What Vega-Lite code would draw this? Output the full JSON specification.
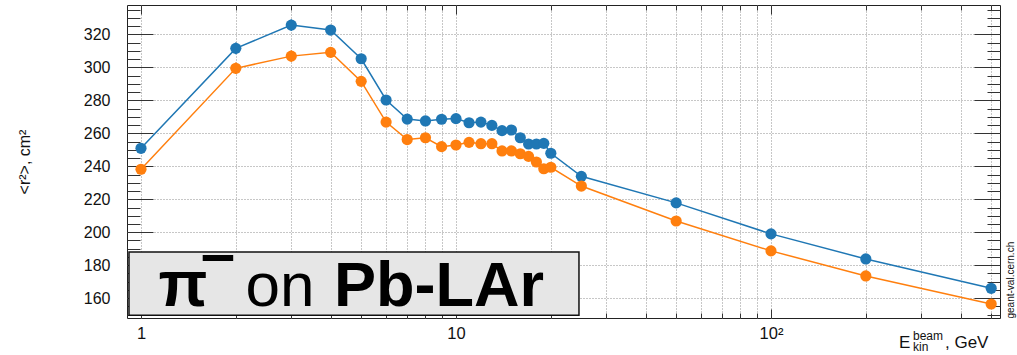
{
  "$schema": "https://vega.github.io/schema/vega-lite/v6.json",
  "width": 873,
  "height": 313,
  "autosize": "none",
  "padding": {"left": 127, "top": 5, "right": 17, "bottom": 37},
  "background": "white",
  "config": {
    "font": "Liberation Sans",
    "view": {"stroke": "#222", "strokeWidth": 1},
    "axis": {
      "domain": false,
      "labelColor": "#111",
      "labelFont": "Liberation Sans",
      "titleFont": "Liberation Sans",
      "titleColor": "#111",
      "titleFontWeight": "normal",
      "tickColor": "#333",
      "tickWidth": 1,
      "gridColor": "#8f8f8f",
      "gridDash": [1, 2],
      "gridWidth": 1
    }
  },
  "datasets": {
    "r2": [
      {"E": 1, "set": "set 1", "r2": 250.9, "err": 2.5},
      {"E": 2, "set": "set 1", "r2": 311.5, "err": 3.5},
      {"E": 3, "set": "set 1", "r2": 325.6, "err": 3.5},
      {"E": 4, "set": "set 1", "r2": 322.6, "err": 2.5},
      {"E": 5, "set": "set 1", "r2": 305.2, "err": 2},
      {"E": 6, "set": "set 1", "r2": 280.2, "err": 2},
      {"E": 7, "set": "set 1", "r2": 268.6, "err": 1.5},
      {"E": 8, "set": "set 1", "r2": 267.5, "err": 1.5},
      {"E": 9, "set": "set 1", "r2": 268.5, "err": 1.5},
      {"E": 10, "set": "set 1", "r2": 268.9, "err": 1.5},
      {"E": 11, "set": "set 1", "r2": 266.4, "err": 1.5},
      {"E": 12, "set": "set 1", "r2": 266.8, "err": 1.5},
      {"E": 13, "set": "set 1", "r2": 264.8, "err": 1.5},
      {"E": 14, "set": "set 1", "r2": 261.6, "err": 1.5},
      {"E": 15, "set": "set 1", "r2": 262.0, "err": 1.5},
      {"E": 16, "set": "set 1", "r2": 257.3, "err": 1.5},
      {"E": 17, "set": "set 1", "r2": 253.5, "err": 1.5},
      {"E": 18, "set": "set 1", "r2": 253.5, "err": 1.5},
      {"E": 19, "set": "set 1", "r2": 253.9, "err": 1.5},
      {"E": 20, "set": "set 1", "r2": 247.9, "err": 1.5},
      {"E": 25, "set": "set 1", "r2": 233.9, "err": 1.5},
      {"E": 50, "set": "set 1", "r2": 217.8, "err": 1.5},
      {"E": 100, "set": "set 1", "r2": 199.0, "err": 1.5},
      {"E": 200, "set": "set 1", "r2": 183.8, "err": 1.5},
      {"E": 500, "set": "set 1", "r2": 166.0, "err": 1.5},
      {"E": 1, "set": "set 2", "r2": 238.2, "err": 2.5},
      {"E": 2, "set": "set 2", "r2": 299.4, "err": 3.5},
      {"E": 3, "set": "set 2", "r2": 306.8, "err": 3.5},
      {"E": 4, "set": "set 2", "r2": 309.1, "err": 2.5},
      {"E": 5, "set": "set 2", "r2": 291.5, "err": 2},
      {"E": 6, "set": "set 2", "r2": 266.8, "err": 2},
      {"E": 7, "set": "set 2", "r2": 256.2, "err": 1.5},
      {"E": 8, "set": "set 2", "r2": 257.3, "err": 1.5},
      {"E": 9, "set": "set 2", "r2": 251.9, "err": 1.5},
      {"E": 10, "set": "set 2", "r2": 252.9, "err": 1.5},
      {"E": 11, "set": "set 2", "r2": 254.5, "err": 1.5},
      {"E": 12, "set": "set 2", "r2": 253.7, "err": 1.5},
      {"E": 13, "set": "set 2", "r2": 253.7, "err": 1.5},
      {"E": 14, "set": "set 2", "r2": 249.3, "err": 1.5},
      {"E": 15, "set": "set 2", "r2": 249.3, "err": 1.5},
      {"E": 16, "set": "set 2", "r2": 247.6, "err": 1.5},
      {"E": 17, "set": "set 2", "r2": 246.0, "err": 1.5},
      {"E": 18, "set": "set 2", "r2": 242.6, "err": 1.5},
      {"E": 19, "set": "set 2", "r2": 238.5, "err": 1.5},
      {"E": 20, "set": "set 2", "r2": 239.4, "err": 1.5},
      {"E": 25, "set": "set 2", "r2": 228.0, "err": 1.5},
      {"E": 50, "set": "set 2", "r2": 206.8, "err": 1.5},
      {"E": 100, "set": "set 2", "r2": 188.7, "err": 1.5},
      {"E": 200, "set": "set 2", "r2": 173.5, "err": 1.5},
      {"E": 500, "set": "set 2", "r2": 156.5, "err": 1.5}
    ]
  },
  "layer": [
    {
      "data": {"name": "r2"},
      "mark": {"type": "line", "strokeWidth": 1.5},
      "encoding": {
        "x": {
          "field": "E", "type": "quantitative",
          "scale": {"type": "log", "domain": [0.9028, 533.3], "nice": false},
          "axis": {
            "orient": "bottom", "values": [1, 10, 100], "ticks": false, "grid": true,
            "labelExpr": "datum.value == 100 ? '10²' : datum.label",
            "labelFontSize": 16.5, "labelPadding": 7, "title": null
          }
        },
        "y": {
          "field": "r2", "type": "quantitative",
          "scale": {"domain": [148, 337.8], "nice": false, "zero": false},
          "axis": {
            "orient": "left", "values": [160, 180, 200, 220, 240, 260, 280, 300, 320],
            "ticks": false, "grid": true, "labelFontSize": 16, "labelPadding": 17,
            "title": "<r²>, cm²", "titleFontSize": 16, "titleAngle": -90,
            "titleX": -103, "titleY": 156.5, "titleAlign": "center", "titleBaseline": "middle"
          }
        },
        "color": {
          "field": "set", "type": "nominal",
          "scale": {"domain": ["set 1", "set 2"], "range": ["#1f77b4", "#ff7f0e"]},
          "legend": null
        }
      }
    },
    {
      "data": {"name": "r2"},
      "mark": {"type": "errorbar", "thickness": 1.5},
      "encoding": {
        "x": {"field": "E", "type": "quantitative", "scale": {"type": "log", "domain": [0.9028, 533.3], "nice": false}, "axis": null},
        "y": {"field": "r2", "type": "quantitative", "scale": {"domain": [148, 337.8], "nice": false, "zero": false}, "axis": null},
        "yError": {"field": "err"},
        "color": {"field": "set", "type": "nominal", "scale": {"domain": ["set 1", "set 2"], "range": ["#1f77b4", "#ff7f0e"]}, "legend": null}
      }
    },
    {
      "data": {"name": "r2"},
      "mark": {"type": "point", "filled": true, "size": 125, "opacity": 1},
      "encoding": {
        "x": {
          "field": "E", "type": "quantitative",
          "scale": {"type": "log", "domain": [0.9028, 533.3], "nice": false},
          "axis": {
            "orient": "bottom", "values": [2, 3, 4, 5, 6, 7, 8, 9, 20, 30, 40, 50, 60, 70, 80, 90, 200, 300, 400, 500],
            "labels": false, "tickSize": -5, "grid": true, "title": null
          }
        },
        "y": {
          "field": "r2", "type": "quantitative",
          "scale": {"domain": [148, 337.8], "nice": false, "zero": false},
          "axis": {
            "orient": "left",
            "values": [150, 155, 160, 165, 170, 175, 180, 185, 190, 195, 200, 205, 210, 215, 220, 225, 230, 235, 240, 245, 250, 255, 260, 265, 270, 275, 280, 285, 290, 295, 300, 305, 310, 315, 320, 325, 330, 335],
            "labels": false, "tickSize": -13, "grid": false, "title": null
          }
        },
        "color": {"field": "set", "type": "nominal", "scale": {"domain": ["set 1", "set 2"], "range": ["#1f77b4", "#ff7f0e"]}, "legend": null}
      }
    },
    {
      "data": {"values": [{}]},
      "mark": {"type": "rect", "fill": "#e6e6e6", "stroke": "#111", "strokeWidth": 1.5},
      "encoding": {
        "x": {
          "datum": 0.916, "type": "quantitative",
          "scale": {"type": "log", "domain": [0.9028, 533.3], "nice": false},
          "axis": {"orient": "bottom", "values": [1, 10, 100], "labels": false, "tickSize": -9, "grid": false, "title": null}
        },
        "x2": {"datum": 24.57},
        "y": {
          "datum": 188.05, "type": "quantitative",
          "scale": {"domain": [148, 337.8], "nice": false, "zero": false},
          "axis": {"orient": "left", "values": [160, 180, 200, 220, 240, 260, 280, 300, 320], "labels": false, "tickSize": -26, "grid": false, "title": null}
        },
        "y2": {"datum": 149.6}
      }
    },
    {
      "data": {"values": [{}]},
      "mark": {"type": "text", "text": "π", "font": "Liberation Sans", "fontWeight": "bold", "fontSize": 64, "align": "left", "baseline": "alphabetic", "color": "#000"},
      "encoding": {
        "x": {
          "datum": 1.137, "type": "quantitative",
          "scale": {"type": "log", "domain": [0.9028, 533.3], "nice": false},
          "axis": {"orient": "top", "values": [1, 10, 100], "labels": false, "tickSize": -9, "grid": false, "title": null}
        },
        "y": {
          "datum": 155.1, "type": "quantitative",
          "scale": {"domain": [148, 337.8], "nice": false, "zero": false},
          "axis": {
            "orient": "right", "values": [160, 180, 200, 220, 240, 260, 280, 300, 320], "labels": false, "tickSize": -26, "grid": false,
            "title": "geant-val.cern.ch", "titleFontSize": 10, "titleAngle": -90,
            "titleX": 10, "titleY": 313, "titleAlign": "left", "titleBaseline": "middle"
          }
        }
      }
    },
    {
      "data": {"values": [{}]},
      "mark": {"type": "text", "text": "on", "font": "Liberation Sans", "fontWeight": "normal", "fontSize": 62, "align": "left", "baseline": "alphabetic", "color": "#000"},
      "encoding": {
        "x": {
          "datum": 2.147, "type": "quantitative",
          "scale": {"type": "log", "domain": [0.9028, 533.3], "nice": false},
          "axis": {"orient": "top", "values": [2, 3, 4, 5, 6, 7, 8, 9, 20, 30, 40, 50, 60, 70, 80, 90, 200, 300, 400, 500], "labels": false, "tickSize": -5, "grid": false, "title": null}
        },
        "y": {
          "datum": 155.1, "type": "quantitative",
          "scale": {"domain": [148, 337.8], "nice": false, "zero": false},
          "axis": {
            "orient": "right",
            "values": [150, 155, 160, 165, 170, 175, 180, 185, 190, 195, 200, 205, 210, 215, 220, 225, 230, 235, 240, 245, 250, 255, 260, 265, 270, 275, 280, 285, 290, 295, 300, 305, 310, 315, 320, 325, 330, 335],
            "labels": false, "tickSize": -13, "grid": false, "title": null
          }
        }
      }
    },
    {
      "data": {"values": [{}]},
      "mark": {"type": "text", "text": "Pb-LAr", "font": "Liberation Sans", "fontWeight": "bold", "fontSize": 63, "align": "left", "baseline": "alphabetic", "color": "#000"},
      "encoding": {
        "x": {"datum": 4.10, "type": "quantitative", "scale": {"type": "log", "domain": [0.9028, 533.3], "nice": false}, "axis": null},
        "y": {"datum": 155.1, "type": "quantitative", "scale": {"domain": [148, 337.8], "nice": false, "zero": false}, "axis": null}
      }
    },
    {
      "data": {"values": [{}]},
      "mark": {"type": "rule", "strokeWidth": 6, "color": "#000", "strokeCap": "butt"},
      "encoding": {
        "x": {"datum": 1.570, "type": "quantitative", "scale": {"type": "log", "domain": [0.9028, 533.3], "nice": false}, "axis": null},
        "x2": {"datum": 1.962},
        "y": {"datum": 184.4, "type": "quantitative", "scale": {"domain": [148, 337.8], "nice": false, "zero": false}, "axis": null}
      }
    },
    {
      "data": {"values": [{}]},
      "mark": {"type": "text", "text": "E", "fontSize": 17, "align": "left", "baseline": "alphabetic", "color": "#111"},
      "encoding": {
        "x": {"datum": 254.9, "type": "quantitative", "scale": {"type": "log", "domain": [0.9028, 533.3], "nice": false}, "axis": null},
        "y": {"datum": 129.6, "type": "quantitative", "scale": {"domain": [148, 337.8], "nice": false, "zero": false}, "axis": null}
      }
    },
    {
      "data": {"values": [{}]},
      "mark": {"type": "text", "text": "beam", "fontSize": 12, "align": "left", "baseline": "alphabetic", "color": "#111"},
      "encoding": {
        "x": {"datum": 282.4, "type": "quantitative", "scale": {"type": "log", "domain": [0.9028, 533.3], "nice": false}, "axis": null},
        "y": {"datum": 134.8, "type": "quantitative", "scale": {"domain": [148, 337.8], "nice": false, "zero": false}, "axis": null}
      }
    },
    {
      "data": {"values": [{}]},
      "mark": {"type": "text", "text": "kin", "fontSize": 12, "align": "left", "baseline": "alphabetic", "color": "#111"},
      "encoding": {
        "x": {"datum": 282.4, "type": "quantitative", "scale": {"type": "log", "domain": [0.9028, 533.3], "nice": false}, "axis": null},
        "y": {"datum": 128.0, "type": "quantitative", "scale": {"domain": [148, 337.8], "nice": false, "zero": false}, "axis": null}
      }
    },
    {
      "data": {"values": [{}]},
      "mark": {"type": "text", "text": ", GeV", "fontSize": 17, "align": "left", "baseline": "alphabetic", "color": "#111"},
      "encoding": {
        "x": {"datum": 356.7, "type": "quantitative", "scale": {"type": "log", "domain": [0.9028, 533.3], "nice": false}, "axis": null},
        "y": {"datum": 129.6, "type": "quantitative", "scale": {"domain": [148, 337.8], "nice": false, "zero": false}, "axis": null}
      }
    }
  ],
  "resolve": {"axis": {"x": "independent", "y": "independent"}}
}
